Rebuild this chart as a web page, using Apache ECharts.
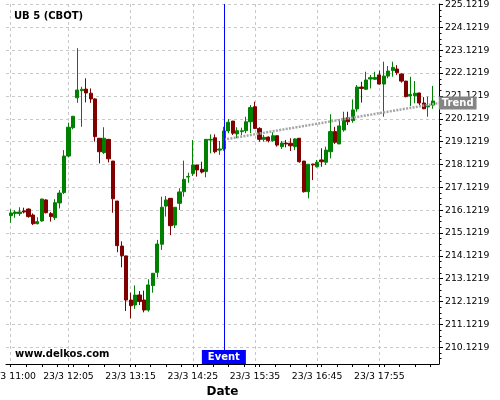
<!DOCTYPE html>
<html><head><meta charset="utf-8">
<script src="https://cdn.jsdelivr.net/npm/echarts@6/dist/echarts.min.js"></script>
<style>html,body{margin:0;padding:0;background:#fff}#c{width:500px;height:400px}</style>
</head><body><div id="c"></div>
<script>
const times = ['11:00','11:05','11:10','11:15','11:20','11:25','11:30','11:35','11:40','11:45','11:50','11:55',
'12:00','12:05','12:10','12:15','12:20','12:25','12:30','12:35','12:40','12:45','12:50','12:55',
'13:00','13:05','13:10','13:15','13:20','13:25','13:30','13:35','13:40','13:45','13:50','13:55',
'14:00','14:05','14:10','14:15','14:20','14:25','14:30','14:35','14:40','14:45','14:50','14:55',
'15:00','15:05','15:10','15:15','15:20','15:25','15:30','15:35','15:40','15:45','15:50','15:55',
'16:00','16:05','16:10','16:15','16:20','16:25','16:30','16:35','16:40','16:45','16:50','16:55',
'17:00','17:05','17:10','17:15','17:20','17:25','17:30','17:35','17:40','17:45','17:50','17:55',
'18:00','18:05','18:10','18:15','18:20','18:25','18:30','18:35','18:40','18:45','18:50','18:55'];
const opens = [215.88,215.98,215.97,216.09,216.17,215.91,215.53,215.65,216.57,215.97,215.79,216.44,
216.89,218.49,219.73,221.04,221.35,221.42,221.24,220.99,219.27,218.64,219.22,218.27,
216.52,214.55,214.12,212.19,211.97,212.41,212.19,211.75,212.82,213.40,214.63,216.30,
216.64,215.47,216.42,216.93,217.57,217.73,218.10,217.91,217.81,219.19,219.29,218.75,
218.80,219.59,220.02,219.46,219.56,219.60,219.99,220.65,219.70,219.22,219.32,219.16,
219.38,218.90,219.06,219.05,218.90,219.27,218.27,216.93,218.14,218.02,218.32,218.22,
218.68,219.56,219.02,219.63,220.17,220.04,220.55,221.51,221.41,221.86,221.85,222.04,
221.64,221.99,222.23,222.30,222.08,221.77,221.12,221.13,221.25,220.81,220.64,220.72];
const closes = [216.00,216.04,216.04,216.04,215.84,215.53,215.62,216.61,216.01,215.84,216.45,216.87,
218.49,219.75,220.23,221.38,221.41,221.25,220.99,219.34,218.68,219.27,218.37,216.62,
214.57,214.13,212.19,211.94,212.41,212.12,211.75,212.85,213.36,214.64,216.25,216.57,
215.44,216.25,216.92,217.47,217.60,218.10,217.88,217.79,219.22,219.22,218.68,218.80,
219.59,219.97,219.49,219.60,219.60,219.99,220.61,219.70,219.22,219.31,219.16,219.38,
218.97,219.06,219.02,218.94,219.24,218.24,216.93,218.13,218.10,218.22,218.24,218.75,
219.56,219.09,219.81,220.14,219.99,220.51,221.51,221.45,221.82,221.92,221.93,221.64,
221.99,222.21,222.37,222.14,221.77,221.09,221.19,221.24,220.81,220.56,220.68,220.90];
const lows = [215.57,215.79,215.87,215.98,215.79,215.47,215.50,215.62,215.98,215.62,215.69,216.20,
216.83,218.43,219.66,220.82,219.77,220.84,220.82,219.12,218.17,218.58,218.21,216.01,
214.28,213.62,211.71,211.39,211.80,211.97,211.65,211.68,212.51,213.18,214.38,215.84,
215.03,215.34,216.13,216.71,217.32,217.62,217.59,217.73,217.56,218.61,218.61,218.54,
218.72,219.49,219.41,219.27,219.41,219.49,219.49,219.67,219.12,219.12,219.09,219.12,
218.90,218.80,218.87,218.71,218.75,218.20,216.89,216.64,217.44,217.99,218.02,218.10,
218.39,219.02,219.02,219.56,219.85,219.95,220.43,220.83,221.38,221.45,221.82,221.63,
220.21,221.89,221.96,222.04,221.70,221.06,220.68,220.80,220.72,220.54,220.21,220.56];
const highs = [216.16,216.12,216.25,216.23,216.20,215.98,215.81,216.62,216.60,216.04,216.60,217.00,
218.75,219.95,220.24,223.21,221.52,221.89,221.45,221.02,219.28,219.75,219.24,218.28,
216.53,214.76,214.13,212.51,212.83,212.58,212.60,213.10,213.37,214.82,216.71,216.74,
216.65,216.26,217.08,218.29,217.76,219.19,218.11,218.24,219.23,219.44,219.44,219.15,
219.77,220.11,220.03,219.75,219.73,220.21,220.72,220.87,219.75,219.41,219.35,219.53,
219.39,219.15,219.19,219.27,219.27,219.28,218.28,218.14,218.15,218.32,218.83,218.90,
220.32,219.77,220.10,220.43,220.43,220.97,221.60,221.74,222.18,222.04,222.18,222.23,
222.62,222.43,222.62,222.47,222.11,221.78,221.96,221.77,221.26,221.07,221.09,221.56];
const xTickLabels = ['11:00','12:05','13:15','14:25','15:35','16:45','17:55'];
const yTickLabels = ['210.1219','211.1219','212.1219','213.1219','214.1219','215.1219','216.1219','217.1219',
'218.1219','219.1219','220.1219','221.1219','222.1219','223.1219','224.1219','225.1219'];
const eventTime = '15:00';
const trendTimes = ['15:00','19:02'];
const trendValues = [219.21, 220.81];

const FONT = 'DejaVu Sans';
const toMin = t => { const p = t.split(':').map(Number); return p[0]*60 + p[1] - 660; };
const fmtX = v => { const t = Math.round(v + 660); const h = Math.floor(t/60), m = t % 60; return '23/3 ' + h + ':' + String(m).padStart(2,'0'); };
const X_MIN = -5.3, X_MAX = 482.2, Y_MIN = 209.39, Y_MAX = 225.144;
const candleData = times.map((t,i) => [toMin(t), opens[i], closes[i], lows[i], highs[i]]);
const xMajor = xTickLabels.map(toMin);
const xMinor = []; for (let v = 0; v <= X_MAX; v += 17.5) xMinor.push(v);
const yMajor = yTickLabels.map(Number);
const yMinor = []; for (let v = yMajor[0] - 0.5; v <= Y_MAX; v += 0.25) if (v >= Y_MIN) yMinor.push(+v.toFixed(4));

const chart = echarts.init(document.getElementById('c'), null, {renderer:'canvas'});
const grid = '#c8c8c8';
chart.setOption({
  animation: false,
  backgroundColor: '#fff',
  title: {text: 'UB 5 (CBOT)', left: 9, top: 6, textStyle: {fontFamily: FONT, fontSize: 10, fontWeight: 'bold', color: '#000'}},
  graphic: [{type: 'text', left: 15, top: 349, style: {text: 'www.delkos.com', font: 'bold 10px "DejaVu Sans"', fill: '#000'}}],
  grid: {left: 6, right: 61, top: 4, bottom: 36, containLabel: false, outerBoundsMode: 'none'},
  xAxis: [{
    type: 'value', min: X_MIN, max: X_MAX, position: 'bottom',
    name: 'Date', nameLocation: 'middle', nameGap: 20,
    nameTextStyle: {fontFamily: FONT, fontSize: 12, fontWeight: 'bold', color: '#000'},
    axisLine: {show: true, onZero: false, lineStyle: {color: '#000', width: 1}},
    axisTick: {show: true, customValues: xMajor, length: 3, lineStyle: {color: '#000'}},
    axisLabel: {customValues: xMajor, formatter: fmtX, fontFamily: FONT, fontSize: 9.3, color: '#000', margin: 8, hideOverlap: false},
    splitLine: {show: true, lineStyle: {color: grid, type: [3,3], width: 1}}
  }, {
    type: 'value', min: X_MIN, max: X_MAX, position: 'bottom',
    axisLine: {show: false, onZero: false}, axisLabel: {show: false}, splitLine: {show: false},
    axisTick: {show: true, customValues: xMinor, length: 3, lineStyle: {color: '#000'}}
  }],
  yAxis: [{
    type: 'value', min: Y_MIN, max: Y_MAX, position: 'right',
    axisLine: {show: true, onZero: false, lineStyle: {color: '#000', width: 1}},
    axisTick: {show: true, customValues: yMajor, length: 4, lineStyle: {color: '#000'}},
    axisLabel: {customValues: yMajor, formatter: v => v.toFixed(4), fontFamily: FONT, fontSize: 9.3, color: '#000', margin: 6},
    splitLine: {show: true, lineStyle: {color: grid, type: [3,3], width: 1}}
  }, {
    type: 'value', min: Y_MIN, max: Y_MAX, position: 'right',
    axisLine: {show: false, onZero: false}, axisLabel: {show: false}, splitLine: {show: false},
    axisTick: {show: true, customValues: yMinor, length: 2.5, lineStyle: {color: '#000'}}
  }],
  series: [{
    type: 'candlestick', xAxisIndex: 0, yAxisIndex: 0, data: candleData, barWidth: 3.7,
    itemStyle: {color: '#008000', color0: '#800000', borderColor: '#008000', borderColor0: '#800000', borderWidth: 1},
    markLine: {silent: true, symbol: ['none','none'], label: {show: false},
      lineStyle: {color: '#0000ff', width: 1, type: 'solid'}, data: [{xAxis: toMin(eventTime)}]},
    markPoint: {silent: true, data: [{coord: [toMin(eventTime), Y_MIN], symbol: 'rect', symbolSize: [44,14], symbolOffset: [0,-7],
      itemStyle: {color: '#0000ff'},
      label: {show: true, position: 'inside', formatter: 'Event', color: '#fff', fontFamily: FONT, fontSize: 10, fontWeight: 'bold'}}]}
  }, {
    type: 'line', xAxisIndex: 0, yAxisIndex: 0, symbol: 'none', silent: true,
    data: trendTimes.map((t,i) => [toMin(t), trendValues[i]]),
    lineStyle: {color: '#a5a5a5', width: 2.5, type: [2,1.3]},
    endLabel: {show: true, formatter: 'Trend', distance: 0, color: '#fff', fontFamily: FONT, fontSize: 10, fontWeight: 'bold',
      backgroundColor: '#858585', padding: [1,3,1,3], lineHeight: 11}
  }]
});
</script></body></html>
